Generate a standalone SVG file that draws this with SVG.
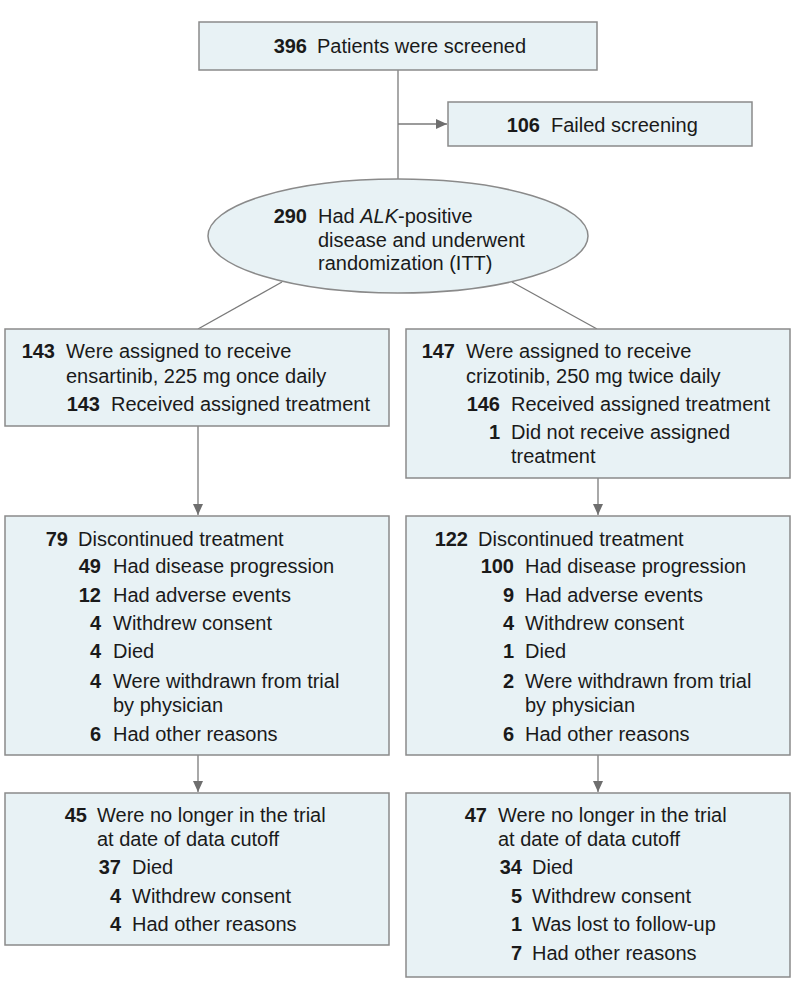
<svg xmlns="http://www.w3.org/2000/svg" width="794" height="997" viewBox="0 0 794 997">
<style>
.box{fill:#e8f2f5;stroke:#8a8a8a;stroke-width:1.5}
.t{font-family:"Liberation Sans",Arial,sans-serif;font-size:20px;fill:#1a1a1a}
.n{font-weight:bold;text-anchor:end}
.c{fill:none;stroke:#7a7a7a;stroke-width:1.3}
</style>
<defs>
<marker id="ah" markerUnits="userSpaceOnUse" markerWidth="12" markerHeight="10" refX="11" refY="5" orient="auto">
<path d="M0,0 L11,5 L0,10 Z" fill="#6e6e6e"/>
</marker>
</defs>
<rect width="794" height="997" fill="#fff"/>
<g id="connectors">
<path class="c" d="M398,70 V179"/>
<path class="c" d="M398,124 H447" marker-end="url(#ah)"/>
<path class="c" d="M282,282 L198,329"/>
<path class="c" d="M512,282 L597,329"/>
<path class="c" d="M198,426 V515" marker-end="url(#ah)"/>
<path class="c" d="M598,478 V515" marker-end="url(#ah)"/>
<path class="c" d="M198,755 V792" marker-end="url(#ah)"/>
<path class="c" d="M598,755 V792" marker-end="url(#ah)"/>
</g>
<g id="screened">
<rect class="box" x="199" y="22" width="398" height="48"/>
<text class="t n" x="307" y="53">396</text>
<text class="t" x="317" y="53">Patients were screened</text>
</g>
<g id="failed">
<rect class="box" x="448" y="102" width="304" height="44"/>
<text class="t n" x="540" y="132">106</text>
<text class="t" x="551" y="132">Failed screening</text>
</g>
<g id="randomized">
<ellipse class="box" cx="398" cy="236" rx="190" ry="57"/>
<text class="t n" x="307" y="223">290</text>
<text class="t" x="318" y="223">Had <tspan font-style="italic">ALK</tspan>-positive</text>
<text class="t" x="318" y="246.5">disease and underwent</text>
<text class="t" x="318" y="270">randomization (ITT)</text>
</g>
<g id="ensartinib-assigned">
<rect class="box" x="5" y="329" width="384" height="97"/>
<text class="t n" x="55" y="358">143</text>
<text class="t" x="66" y="358">Were assigned to receive</text>
<text class="t" x="66" y="383">ensartinib, 225 mg once daily</text>
<text class="t n" x="100" y="411">143</text>
<text class="t" x="111" y="411">Received assigned treatment</text>
</g>
<g id="crizotinib-assigned">
<rect class="box" x="406" y="329" width="384" height="149"/>
<text class="t n" x="455" y="358">147</text>
<text class="t" x="466" y="358">Were assigned to receive</text>
<text class="t" x="466" y="383">crizotinib, 250 mg twice daily</text>
<text class="t n" x="500" y="411">146</text>
<text class="t" x="511" y="411">Received assigned treatment</text>
<text class="t n" x="500" y="439">1</text>
<text class="t" x="511" y="439">Did not receive assigned</text>
<text class="t" x="511" y="463">treatment</text>
</g>
<g id="ensartinib-discontinued">
<rect class="box" x="5" y="516" width="384" height="239"/>
<text class="t n" x="68" y="546">79</text>
<text class="t" x="78" y="546">Discontinued treatment</text>
<text class="t n" x="101" y="573">49</text>
<text class="t" x="113" y="573">Had disease progression</text>
<text class="t n" x="101" y="602">12</text>
<text class="t" x="113" y="602">Had adverse events</text>
<text class="t n" x="101" y="630">4</text>
<text class="t" x="113" y="630">Withdrew consent</text>
<text class="t n" x="101" y="658">4</text>
<text class="t" x="113" y="658">Died</text>
<text class="t n" x="101" y="688">4</text>
<text class="t" x="113" y="688">Were withdrawn from trial</text>
<text class="t" x="113" y="712">by physician</text>
<text class="t n" x="101" y="741">6</text>
<text class="t" x="113" y="741">Had other reasons</text>
</g>
<g id="crizotinib-discontinued">
<rect class="box" x="406" y="516" width="384" height="239"/>
<text class="t n" x="468" y="546">122</text>
<text class="t" x="478" y="546">Discontinued treatment</text>
<text class="t n" x="514" y="573">100</text>
<text class="t" x="525" y="573">Had disease progression</text>
<text class="t n" x="514" y="602">9</text>
<text class="t" x="525" y="602">Had adverse events</text>
<text class="t n" x="514" y="630">4</text>
<text class="t" x="525" y="630">Withdrew consent</text>
<text class="t n" x="514" y="658">1</text>
<text class="t" x="525" y="658">Died</text>
<text class="t n" x="514" y="688">2</text>
<text class="t" x="525" y="688">Were withdrawn from trial</text>
<text class="t" x="525" y="712">by physician</text>
<text class="t n" x="514" y="741">6</text>
<text class="t" x="525" y="741">Had other reasons</text>
</g>
<g id="ensartinib-offtrial">
<rect class="box" x="5" y="793" width="384" height="152"/>
<text class="t n" x="87" y="822">45</text>
<text class="t" x="97" y="822">Were no longer in the trial</text>
<text class="t" x="97" y="846">at date of data cutoff</text>
<text class="t n" x="121" y="874">37</text>
<text class="t" x="132" y="874">Died</text>
<text class="t n" x="121" y="903">4</text>
<text class="t" x="132" y="903">Withdrew consent</text>
<text class="t n" x="121" y="931">4</text>
<text class="t" x="132" y="931">Had other reasons</text>
</g>
<g id="crizotinib-offtrial">
<rect class="box" x="406" y="793" width="384" height="184"/>
<text class="t n" x="487" y="822">47</text>
<text class="t" x="498" y="822">Were no longer in the trial</text>
<text class="t" x="498" y="846">at date of data cutoff</text>
<text class="t n" x="522" y="874">34</text>
<text class="t" x="532" y="874">Died</text>
<text class="t n" x="522" y="903">5</text>
<text class="t" x="532" y="903">Withdrew consent</text>
<text class="t n" x="522" y="931">1</text>
<text class="t" x="532" y="931">Was lost to follow-up</text>
<text class="t n" x="522" y="960">7</text>
<text class="t" x="532" y="960">Had other reasons</text>
</g>
</svg>
